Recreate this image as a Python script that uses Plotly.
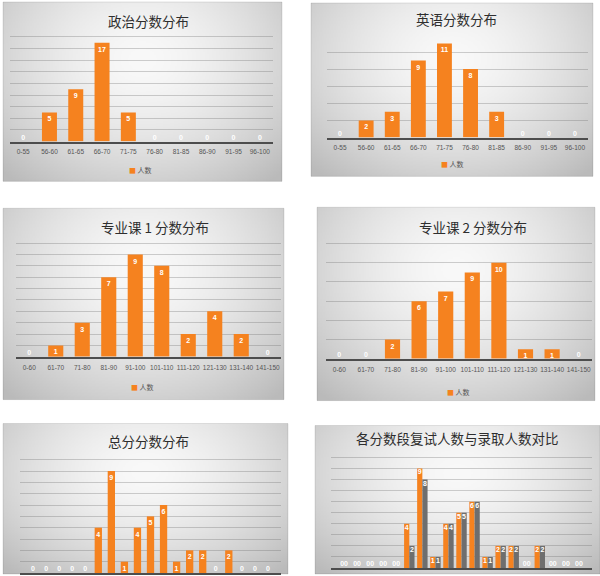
import base64
import struct
import zlib

import numpy as np
import plotly.graph_objects as go

# ---------------- data ----------------
politics_bins = ["0-55", "56-60", "61-65", "66-70", "71-75", "76-80", "81-85", "86-90", "91-95", "96-100"]
politics_counts = [0, 5, 9, 17, 5, 0, 0, 0, 0, 0]

english_bins = ["0-55", "56-60", "61-65", "66-70", "71-75", "76-80", "81-85", "86-90", "91-95", "96-100"]
english_counts = [0, 2, 3, 9, 11, 8, 3, 0, 0, 0]

course_bins = ["0-60", "61-70", "71-80", "81-90", "91-100", "101-110", "111-120", "121-130", "131-140", "141-150"]
course1_counts = [0, 1, 3, 7, 9, 8, 2, 4, 2, 0]
course2_counts = [0, 0, 2, 6, 7, 9, 10, 1, 1, 0]

total_bins = ["0-300", "301-310", "311-320", "321-330", "331-340", "341-350", "351-360", "361-370",
              "371-380", "381-390", "391-400", "401-410", "411-420", "421-430", "431-440",
              "441-450", "451-460", "461-470", "471-500"]
total_counts = [0, 0, 0, 0, 0, 4, 9, 1, 4, 5, 6, 1, 2, 2, 0, 2, 0, 0, 0]
retest_counts = [0, 0, 0, 0, 0, 4, 9, 1, 4, 5, 6, 1, 2, 2, 0, 2, 0, 0, 0]
admit_counts = [0, 0, 0, 0, 0, 2, 8, 1, 4, 5, 6, 1, 2, 2, 0, 2, 0, 0, 0]

titles = ["政治分数分布", "英语分数分布", "专业课 1 分数分布", "专业课 2 分数分布",
          "总分分数分布", "各分数段复试人数与录取人数对比"]
series_name = "人数"
retest_name = "复试人数"
admit_name = "录取人数"

# ---------------- style ----------------
W, H = 600, 576
ORANGE = "#F5821F"
GRAY = "#6E6E6E"
CJK = "Noto Sans CJK SC"
LATIN = "Liberation Sans"


def gradient_png():
    h, w = 130, 200
    v, u = np.mgrid[0:h, 0:w]
    u = u / (w - 1)
    v = v / (h - 1)
    d = np.sqrt(((u - 0.5) / 0.62) ** 2 + ((v - 0.32) / 0.78) ** 2)
    d = np.minimum(d, 1.15)
    c = 249 - 50 * d ** 1.6
    arr = np.clip(np.stack([c, c, c], axis=-1), 0, 255).astype(np.uint8)
    raw = b"".join(b"\x00" + arr[i].tobytes() for i in range(h))

    def chunk(tag, data):
        body = tag + data
        return struct.pack(">I", len(data)) + body + struct.pack(">I", zlib.crc32(body) & 0xFFFFFFFF)

    png = (b"\x89PNG\r\n\x1a\n" + chunk(b"IHDR", struct.pack(">IIBBBBB", w, h, 8, 2, 0, 0, 0))
           + chunk(b"IDAT", zlib.compress(raw, 9)) + chunk(b"IEND", b""))
    return "data:image/png;base64," + base64.b64encode(png).decode()


BG = gradient_png()

# card boxes in pixels (x0, y0, x1, y1)
cards = [(3, 2, 282, 182), (311, 3, 593, 177), (3, 209, 284, 401),
         (317, 208, 595, 402), (3, 425, 288, 576), (315, 427, 600, 576)]
# plot boxes: x0, x1, baseline px, px per unit, ymax, dtick
plots = [(10, 273, 142, 5.83, 18.3, 2), (327, 588, 138, 8.58, 11.3, 2),
         (16, 281, 358, 11.4, 10.2, 1), (326, 592, 360, 9.63, 12.2, 2),
         (20, 281, 575, 11.37, 10.2, 1), (331, 592, 570, 11.1, 10.2, 1)]
title_pos = [(148, 21), (456, 19), (155, 228), (473, 228), (148, 443), (457, 440)]
legend_pos = [(140, 171), (452, 165), (142, 388), (458, 393)]

fig = go.Figure()
LABEL_FONT = dict(color="white", size=7, family=LATIN, weight="bold")


def add_bar(i, cats, vals, color, width, offset, name, zero_pos="top center"):
    ax = "" if i == 0 else str(i + 1)
    fig.add_trace(go.Bar(
        x=cats, y=vals, name=name, marker=dict(color=color, line=dict(width=0)),
        width=width, offset=offset,
        text=[str(v) if v else "" for v in vals], textposition="inside",
        insidetextanchor="end", constraintext="none", textangle=0,
        textfont=LABEL_FONT, xaxis="x" + ax, yaxis="y" + ax,
        showlegend=False, hoverinfo="x+y",
    ))
    zc = [c for c, v in zip(cats, vals) if v == 0]
    zv = [v for v in vals if v == 0]
    fig.add_trace(go.Scatter(
        x=zc, y=zv, mode="text", text=[str(v) for v in zv], textposition=zero_pos,
        textfont=LABEL_FONT, xaxis="x" + ax, yaxis="y" + ax, showlegend=False,
        hoverinfo="skip", cliponaxis=False,
    ))


add_bar(0, politics_bins, politics_counts, ORANGE, 0.57, -0.285, series_name)
add_bar(1, english_bins, english_counts, ORANGE, 0.57, -0.285, series_name)
add_bar(2, course_bins, course1_counts, ORANGE, 0.57, -0.285, series_name)
add_bar(3, course_bins, course2_counts, ORANGE, 0.57, -0.285, series_name)
add_bar(4, total_bins, total_counts, ORANGE, 0.56, -0.28, series_name)
add_bar(5, total_bins, retest_counts, ORANGE, 0.40, -0.40, retest_name, "top left")
add_bar(5, total_bins, admit_counts, GRAY, 0.40, 0.0, admit_name, "top right")

layout = dict(
    width=W, height=H, margin=dict(l=0, r=0, t=0, b=0),
    paper_bgcolor="white", plot_bgcolor="rgba(0,0,0,0)",
    barmode="overlay", font=dict(family=LATIN, color="#555555"),
    images=[], shapes=[], annotations=[], showlegend=False,
)

for i, (x0, x1, base, ppu, ymax, dt) in enumerate(plots):
    ax = "" if i == 0 else str(i + 1)
    top = base - ymax * ppu
    layout["xaxis" + ax] = dict(
        domain=[x0 / W, x1 / W], anchor="y" + ax, type="category",
        showline=True, linecolor="#4d4d4d", linewidth=2, showgrid=False,
        ticks="outside", ticklen=3, tickcolor="rgba(0,0,0,0)", tickangle=0,
        tickfont=dict(size=6.5, color="#555555", family=LATIN),
        showticklabels=i < 4, fixedrange=True,
    )
    layout["yaxis" + ax] = dict(
        domain=[1 - base / H, 1 - top / H], anchor="x" + ax, range=[0, ymax],
        dtick=dt, showgrid=True, gridcolor="rgba(110,110,110,0.32)", gridwidth=1,
        zeroline=False, showticklabels=False, showline=False, fixedrange=True,
    )

for (cx0, cy0, cx1, cy1) in cards:
    layout["images"].append(dict(
        source=BG, xref="paper", yref="paper", x=cx0 / W, y=1 - cy0 / H,
        sizex=(cx1 - cx0) / W, sizey=(cy1 - cy0) / H, xanchor="left", yanchor="top",
        sizing="stretch", layer="below",
    ))
    layout["shapes"].append(dict(
        type="rect", xref="paper", yref="paper", x0=cx0 / W, x1=cx1 / W,
        y0=1 - cy1 / H, y1=1 - cy0 / H, line=dict(color="rgba(0,0,0,0.10)", width=1),
        fillcolor="rgba(0,0,0,0)", layer="below",
    ))

for t, (tx, ty) in zip(titles, title_pos):
    layout["annotations"].append(dict(
        text=t, x=tx / W, y=1 - ty / H, xref="paper", yref="paper",
        xanchor="center", yanchor="middle", showarrow=False,
        font=dict(family=CJK, size=13.5, color="#2e2e2e"),
    ))

# legend keys ("■ 人数") under the four upper charts
for (lx, ly) in legend_pos:
    layout["annotations"].append(dict(
        text=f"<span style='color:{ORANGE}'>■</span> {series_name}",
        x=lx / W, y=1 - ly / H, xref="paper", yref="paper",
        xanchor="center", yanchor="middle", showarrow=False,
        font=dict(family=CJK, size=7, color="#555555"),
    ))

fig.update_layout(**layout)
fig.write_html(
    "out.html",
    config={"displayModeBar": False},
    post_script="document.body.style.margin='0';document.body.style.padding='0';"
                "document.body.style.overflow='hidden';",
)
